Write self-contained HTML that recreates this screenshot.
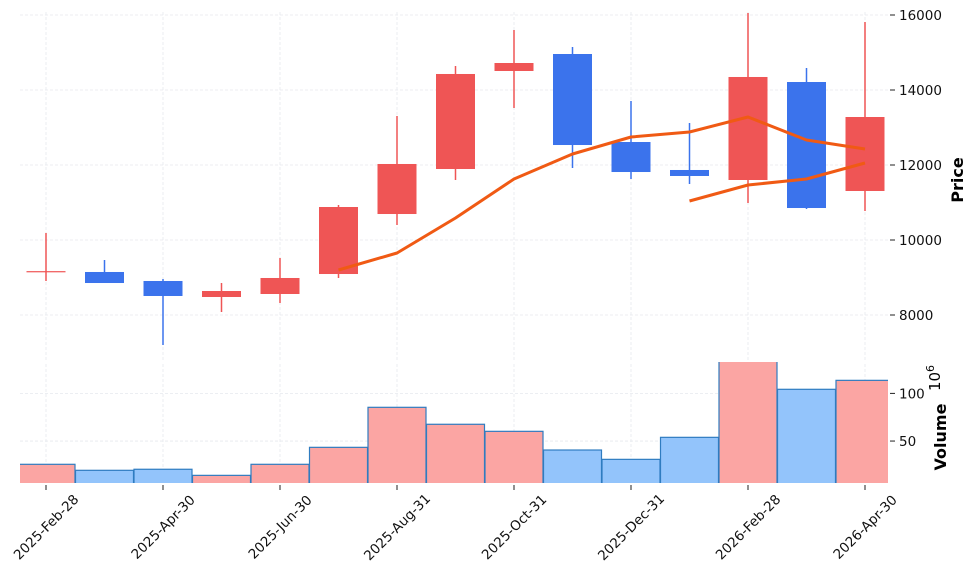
<!DOCTYPE html>
<html><head><meta charset="utf-8"><style>
html,body{margin:0;padding:0;background:#fff;}
svg{display:block;font-family:"DejaVu Sans","Liberation Sans",sans-serif;}
</style></head><body>
<svg id="chart" width="976" height="577" viewBox="0 0 976 577" xmlns="http://www.w3.org/2000/svg">
<defs><clipPath id="pclip"><rect x="20" y="0" width="868" height="362"/></clipPath>
<clipPath id="vclip"><rect x="20" y="362" width="868" height="121"/></clipPath></defs>
<g id="grid"></g>
<g id="vol" clip-path="url(#vclip)"></g>
<g id="candles" clip-path="url(#pclip)"></g>
<g id="mas" clip-path="url(#pclip)"></g>
<g id="axes"></g>
<text x="0" y="0" transform="translate(963,180) rotate(-90)" text-anchor="middle" font-size="16" font-weight="bold">Price</text>
<text x="0" y="0" transform="translate(946,437) rotate(-90)" text-anchor="middle" font-size="16" font-weight="bold">Volume</text>
<text x="0" y="0" transform="translate(940,378) rotate(-90)" text-anchor="middle" font-size="15">10<tspan dy="-6" font-size="11">6</tspan></text>
</svg>
<script>
const dates = ["2025-Feb-28","2025-Mar-31","2025-Apr-30","2025-May-31","2025-Jun-30","2025-Jul-31","2025-Aug-31","2025-Sep-30","2025-Oct-31","2025-Nov-30","2025-Dec-31","2026-Jan-31","2026-Feb-28","2026-Mar-31","2026-Apr-30"];
const opens  = [9170,9147,8907,8480,8560,9093,10693,11893,14507,14960,12613,11867,11600,14213,11307];
const highs  = [10187,9467,8960,8853,9520,10933,13307,14640,15600,15147,13707,13120,16053,14587,15813];
const lows   = [8907,8853,7200,8080,8320,8987,10400,11600,13520,11920,11627,11493,10987,10827,10773];
const closes = [9170,8853,8507,8640,8987,10880,12027,14427,14720,12533,11813,11707,14347,10853,13280];
const volumes = [25.6,19.3,20.4,14.0,25.6,43.4,85.4,67.6,60.2,40.6,30.8,53.9,133.7,104.3,113.7];
const ma1 = [null,null,null,null,null,9200,9653,10587,11627,12293,12747,12880,13280,12667,12427];
const ma2 = [null,null,null,null,null,null,null,null,null,null,null,11040,11467,11627,12053];
const priceTicks = [8000,10000,12000,14000,16000];
const volTicks = [50,100];
const xTickIdx = [0,2,4,6,8,10,12,14];

const NS="http://www.w3.org/2000/svg";
function mk(tag,attrs,parent){const e=document.createElementNS(NS,tag);for(const k in attrs)e.setAttribute(k,attrs[k]);parent.appendChild(e);return e;}
const X = i => 46 + i*58.5;
const YP = p => 15 + (16000-p)*0.0375;
const YV = v => 488.7 - v*0.953;
const RED="#ef5555", BLUE="#3b73ec";
const grid=document.getElementById('grid'), vol=document.getElementById('vol'), cg=document.getElementById('candles'), mg=document.getElementById('mas'), ax=document.getElementById('axes');

xTickIdx.forEach(i=>{
  const l=mk('line',{x1:X(i),x2:X(i),y1:12,y2:360,stroke:"#e6e9ee","stroke-width":0.8,"stroke-dasharray":"3,2"},grid);
  
  
  const l2=mk('line',{x1:X(i),x2:X(i),y1:364,y2:483,stroke:"#e6e9ee","stroke-width":0.8,"stroke-dasharray":"3,2"},grid);
  
  
});
priceTicks.forEach(p=>{
  const l=mk('line',{x1:20,x2:888,y1:YP(p),y2:YP(p),stroke:"#e6e9ee","stroke-width":0.8,"stroke-dasharray":"3,2"},grid);
  
  
  const t=mk('line',{x1:890,x2:895,y1:YP(p),y2:YP(p),stroke:"#222","stroke-width":1},ax);
  
  
  const tx=mk('text',{x:899,y:YP(p)+5,"font-size":13.5,fill:"#111"},ax);
  tx.textContent=p;
  
  
});
volTicks.forEach(v=>{
  const l=mk('line',{x1:20,x2:888,y1:YV(v),y2:YV(v),stroke:"#e6e9ee","stroke-width":0.8,"stroke-dasharray":"3,2"},grid);
  
  
  const t=mk('line',{x1:890,x2:895,y1:YV(v),y2:YV(v),stroke:"#222","stroke-width":1},ax);
  
  
  const tx=mk('text',{x:899,y:YV(v)+5,"font-size":13.5,fill:"#111"},ax);
  tx.textContent=v;
  
  
});
xTickIdx.forEach(i=>{
  const t=mk('line',{x1:X(i),x2:X(i),y1:485,y2:490,stroke:"#222","stroke-width":1},ax);
  
  
  const tx=mk('text',{x:0,y:0,dy:"0.35em",transform:`translate(${X(i)},${527}) rotate(-45)`,"text-anchor":"middle","font-size":13.5,fill:"#111"},ax);
  tx.textContent=dates[i];
  
  
});

volumes.forEach((v,i)=>{
  const up=closes[i]>=opens[i];
  const r=mk('rect',{x:X(i)-29,y:YV(v),width:58,height:Math.max(0,490-YV(v)),fill:up?"#fba5a3":"#93c4fb",stroke:"#2f7cc0","stroke-width":1.2},vol);
  
  
});

dates.forEach((d,i)=>{
  const up=closes[i]>=opens[i];
  const c=up?RED:BLUE;
  const w=mk('line',{x1:X(i),x2:X(i),y1:YP(highs[i]),y2:YP(lows[i]),stroke:c,"stroke-width":1.5},cg);
  
  
  const top=YP(Math.max(opens[i],closes[i])), bot=YP(Math.min(opens[i],closes[i]));
  const b=mk('rect',{x:X(i)-19.5,y:top,width:39,height:Math.max(1.2,bot-top),fill:c},cg);
  
  
});

[ma1,ma2].forEach((ma,k)=>{
  const pts=[];ma.forEach((v,i)=>{if(v!=null)pts.push(X(i).toFixed(1)+","+YP(v).toFixed(1));});
  const p=mk('polyline',{points:pts.join(" "),fill:"none",stroke:"#f05a14","stroke-width":3,"stroke-linejoin":"round"},mg);
  
  
});
</script>
</body></html>
